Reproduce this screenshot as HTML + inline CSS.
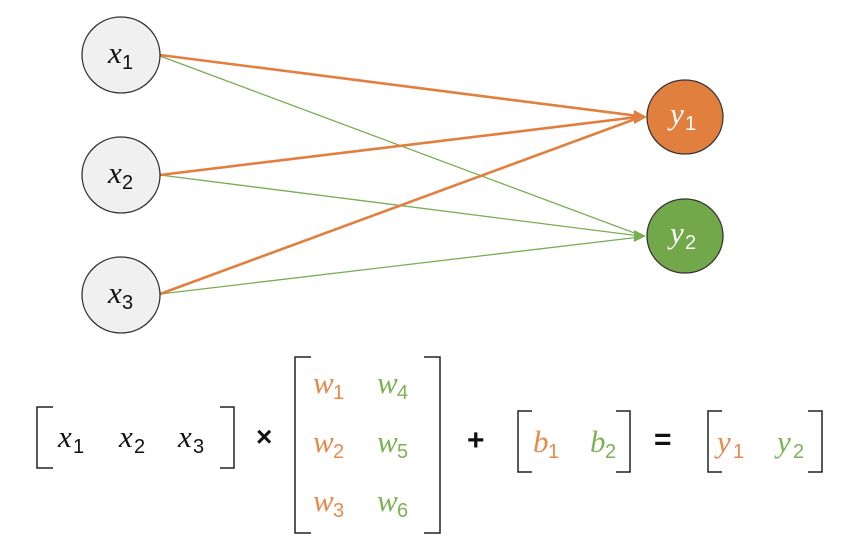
<!DOCTYPE html>
<html><head><meta charset="utf-8"><style>
html,body{margin:0;padding:0;background:#fff;}
svg{display:block;}
text{font-family:"Liberation Serif",serif;}
.v{font-style:italic;font-size:31px;}
.s{font-size:20px;font-family:"Liberation Sans",sans-serif;}
.op{font-family:"Liberation Sans",sans-serif;font-weight:700;fill:#111;}
</style></head><body>
<svg width="850" height="560" viewBox="0 0 850 560" xmlns="http://www.w3.org/2000/svg">
<!-- green lines -->
<g stroke="#78ae52" stroke-width="1.3" fill="none">
<line x1="160" y1="56" x2="640" y2="235"/>
<line x1="160" y1="175" x2="640" y2="236"/>
<line x1="160" y1="294" x2="640" y2="237"/>
</g>
<path d="M646,236 L634,230 L634,242 z" fill="#78ae52"/>
<!-- orange lines -->
<g stroke="#e07f3e" stroke-width="2.6" fill="none">
<line x1="160" y1="55" x2="638" y2="116"/>
<line x1="160" y1="175" x2="638" y2="117"/>
<line x1="160" y1="294" x2="638" y2="118"/>
</g>
<path d="M647,117 L634,110 L634,124 z" fill="#e07f3e"/>
<g fill="#f0f0f0" stroke="#333" stroke-width="1.3">
<ellipse cx="121" cy="55" rx="39" ry="38"/>
<ellipse cx="121" cy="175" rx="39" ry="38"/>
<ellipse cx="121" cy="295" rx="39" ry="38"/>
</g>
<ellipse cx="685" cy="117" rx="38" ry="37" fill="#e07f3e" stroke="#333" stroke-width="1.3"/>
<ellipse cx="685" cy="236" rx="38" ry="37" fill="#72a84a" stroke="#333" stroke-width="1.3"/>
<g fill="#111">
<text class="v" x="108" y="63">x</text><text class="s" x="122" y="69">1</text>
<text class="v" x="108" y="183">x</text><text class="s" x="122" y="189">2</text>
<text class="v" x="108" y="303">x</text><text class="s" x="122" y="309">3</text>
</g>
<g fill="#fff">
<text class="v" x="670" y="124">y</text><text class="s" x="685" y="130">1</text>
<text class="v" x="670" y="243">y</text><text class="s" x="685" y="249">2</text>
</g>
<g stroke="#222" stroke-width="1.5" fill="none">
<path d="M53,407 H37 V468 H53"/>
<path d="M220,407 H234 V468 H220"/>
<path d="M311,357 H295 V533 H311"/>
<path d="M424,357 H440 V533 H424"/>
<path d="M532,411 H518 V472 H532"/>
<path d="M616,411 H630 V472 H616"/>
<path d="M722,411 H708 V472 H722"/>
<path d="M808,411 H822 V472 H808"/>
</g>
<g fill="#111">
<text class="v" x="58" y="447">x</text><text class="s" x="73" y="453">1</text>
<text class="v" x="119" y="447">x</text><text class="s" x="134" y="453">2</text>
<text class="v" x="178" y="447">x</text><text class="s" x="193" y="453">3</text>
</g>
<text class="op" x="256" y="446" style="font-size:28px">×</text>
<text class="op" x="467" y="450" style="font-size:30px">+</text>
<text class="op" x="654" y="449" style="font-size:30px">=</text>
<g fill="#e8894c">
<text class="v" x="313" y="393">w</text><text class="s" x="333" y="399">1</text>
<text class="v" x="313" y="452">w</text><text class="s" x="333" y="458">2</text>
<text class="v" x="313" y="511">w</text><text class="s" x="333" y="517">3</text>
<text class="v" x="533" y="452">b</text><text class="s" x="548" y="458">1</text>
<text class="v" x="717" y="452">y</text><text class="s" x="733" y="458">1</text>
</g>
<g fill="#7db155">
<text class="v" x="377" y="393">w</text><text class="s" x="397" y="399">4</text>
<text class="v" x="377" y="452">w</text><text class="s" x="397" y="458">5</text>
<text class="v" x="377" y="511">w</text><text class="s" x="397" y="517">6</text>
<text class="v" x="590" y="452">b</text><text class="s" x="605" y="458">2</text>
<text class="v" x="777" y="452">y</text><text class="s" x="793" y="458">2</text>
</g>
</svg>
</body></html>
